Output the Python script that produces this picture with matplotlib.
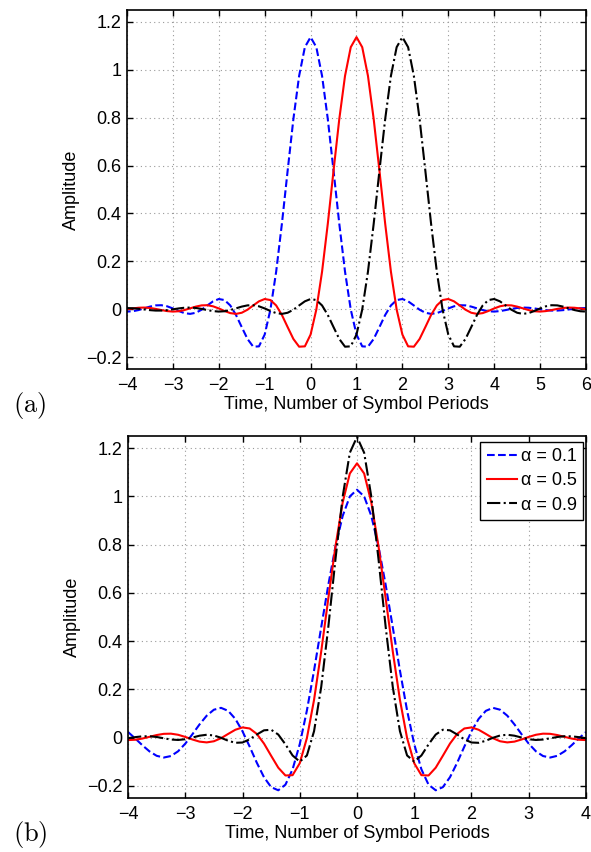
import numpy as np
import matplotlib.pyplot as plt

plt.rcParams['font.family'] = ['Liberation Sans', 'DejaVu Sans']
plt.rcParams['mathtext.fontset'] = 'cm'

# sample grids, 8 samples per symbol period
t_wide = np.arange(-48, 49) / 8.0     # -6 .. 6
t_narrow = np.arange(-32, 33) / 8.0   # -4 .. 4

# root raised cosine pulse, alpha = 0.5 (read over -6..6)
rrc_05 = [0.0045, 0.0038, 0.0017, -0.0012, -0.0041, -0.0059, -0.0059, -0.0040,
          -0.0006, 0.0031, 0.0059, 0.0067, 0.0050, 0.0011, -0.0038, -0.0081,
          -0.0101, -0.0087, -0.0038, 0.0034, 0.0107, 0.0158, 0.0165, 0.0119,
          0.0030, -0.0076, -0.0165, -0.0197, -0.0150, -0.0023, 0.0155, 0.0327,
          0.0424, 0.0380, 0.0155, -0.0244, -0.0750, -0.1245, -0.1568, -0.1554,
          -0.1061, -0.0015, 0.1568, 0.3572, 0.5786, 0.7940, 0.9745, 1.0945,
          1.1366,
          1.0945, 0.9745, 0.7940, 0.5786, 0.3572, 0.1568, -0.0015, -0.1061,
          -0.1554, -0.1568, -0.1245, -0.0750, -0.0244, 0.0155, 0.0380, 0.0424,
          0.0327, 0.0155, -0.0023, -0.0150, -0.0197, -0.0165, -0.0076, 0.0030,
          0.0119, 0.0165, 0.0158, 0.0107, 0.0034, -0.0038, -0.0087, -0.0101,
          -0.0081, -0.0038, 0.0011, 0.0050, 0.0067, 0.0059, 0.0031, -0.0006,
          -0.0040, -0.0059, -0.0059, -0.0041, -0.0012, 0.0017, 0.0038, 0.0045]

# alpha = 0.1 (read over -4..4)
rrc_01 = [0.0233, -0.0031, -0.0314, -0.0569, -0.0752, -0.0824, -0.0762, -0.0565,
          -0.0250, 0.0141, 0.0550, 0.0911, 0.1157, 0.1235, 0.1110, 0.0777,
          0.0263, -0.0372, -0.1040, -0.1637, -0.2051, -0.2181, -0.1949, -0.1312,
          -0.0271, 0.1126, 0.2784, 0.4574, 0.6342, 0.7930, 0.9188, 0.9995,
          1.0273,
          0.9995, 0.9188, 0.7930, 0.6342, 0.4574, 0.2784, 0.1126, -0.0271,
          -0.1312, -0.1949, -0.2181, -0.2051, -0.1637, -0.1040, -0.0372, 0.0263,
          0.0777, 0.1110, 0.1235, 0.1157, 0.0911, 0.0550, 0.0141, -0.0250,
          -0.0565, -0.0762, -0.0824, -0.0752, -0.0569, -0.0314, -0.0031, 0.0233]

# alpha = 0.9 (read over -4..4)
rrc_09 = [-0.0021, 0.0021, 0.0054, 0.0059, 0.0028, -0.0027, -0.0078, -0.0096,
          -0.0066, 0.0004, 0.0081, 0.0120, 0.0090, -0.0006, -0.0129, -0.0214,
          -0.0201, -0.0071, 0.0130, 0.0303, 0.0328, 0.0128, -0.0278, -0.0739,
          -0.0994, -0.0738, 0.0268, 0.2101, 0.4608, 0.7412, 0.9990, 1.1805,
          1.2459,
          1.1805, 0.9990, 0.7412, 0.4608, 0.2101, 0.0268, -0.0738, -0.0994,
          -0.0739, -0.0278, 0.0128, 0.0328, 0.0303, 0.0130, -0.0071, -0.0201,
          -0.0214, -0.0129, -0.0006, 0.0090, 0.0120, 0.0081, 0.0004, -0.0066,
          -0.0096, -0.0078, -0.0027, 0.0028, 0.0059, 0.0054, 0.0021, -0.0021]

delays = [0, 1, 2]
alphas = ['0.1', '0.5', '0.9']

xticks_a = [-4, -3, -2, -1, 0, 1, 2, 3, 4, 5, 6]
xticks_b = [-4, -3, -2, -1, 0, 1, 2, 3, 4]
yticks = [-0.2, 0, 0.2, 0.4, 0.6, 0.8, 1.0, 1.2]
ytick_labels = ['\u22120.2', '0', '0.2', '0.4', '0.6', '0.8', '1', '1.2']

styles = [dict(color='blue', linestyle='--'),
          dict(color='red', linestyle='-'),
          dict(color='black', linestyle='-.')]


def style_axes(ax, xticks):
    ax.set_xlim(xticks[0], xticks[-1])
    ax.set_ylim(-0.25, 1.25)
    ax.set_xticks(xticks)
    ax.set_xticklabels([str(v).replace('-', '\u2212') for v in xticks])
    ax.set_yticks(yticks)
    ax.set_yticklabels(ytick_labels)
    ax.grid(True, linestyle=(0, (1, 3)), color='0.6', linewidth=0.8)
    ax.set_axisbelow(True)
    ax.tick_params(direction='in', top=True, right=True, length=4, width=1,
                   labelsize=13)
    ax.tick_params(axis='x', pad=6)
    ax.tick_params(axis='y', pad=4)
    for s in ax.spines.values():
        s.set_linewidth(1.2)
    ax.set_xlabel('Time, Number of Symbol Periods', fontsize=13, labelpad=1)
    ax.set_ylabel('Amplitude', fontsize=13, labelpad=4)


fig = plt.figure(figsize=(5.91, 8.52), dpi=100)
ax_a = fig.add_axes([0.2149, 0.5669, 0.7766, 0.4214])
ax_b = fig.add_axes([0.2166, 0.0634, 0.7749, 0.4249])

# (a) same pulse delayed by 0, 1, 2 symbol periods
for d, st in zip(delays, styles):
    ax_a.plot(t_wide + d, rrc_05, linewidth=1.5, **st)
style_axes(ax_a, xticks_a)

# (b) three roll-off factors
for (t, y), a, st in zip([(t_narrow, rrc_01), (t_wide, rrc_05), (t_narrow, rrc_09)],
                         alphas, styles):
    ax_b.plot(t, y, linewidth=1.5, label='\u03b1 = ' + a, **st)
style_axes(ax_b, xticks_b)
leg = ax_b.legend(loc='upper right', bbox_to_anchor=(0.994, 0.984), borderaxespad=0,
                  fontsize=13, fancybox=False, framealpha=1, edgecolor='black',
                  handlelength=1.7, handletextpad=0.2, borderpad=0.35,
                  labelspacing=0.4)
leg.get_frame().set_linewidth(1.0)

fig.text(0.022, 0.5235, r'$\mathrm{(a)}$', fontsize=19, ha='left', va='center')
fig.text(0.022, 0.020, r'$\mathrm{(b)}$', fontsize=19, ha='left', va='center')

fig.savefig('out.png', dpi=100)
